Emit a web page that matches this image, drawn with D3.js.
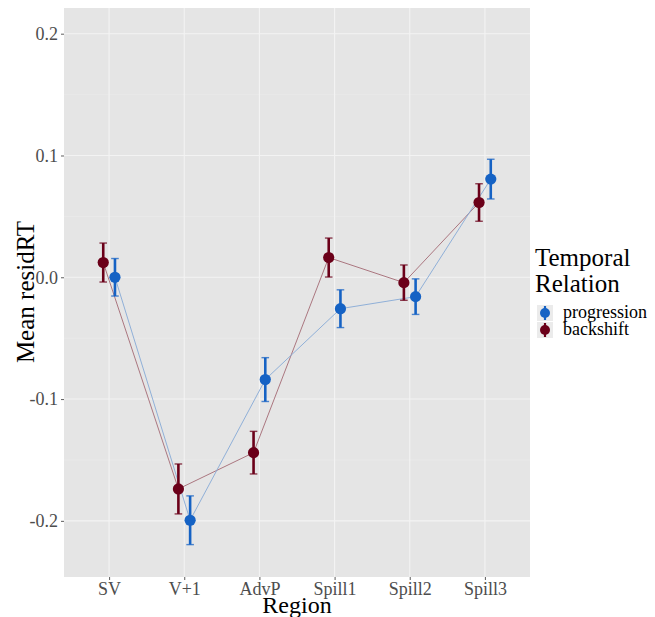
<!DOCTYPE html>
<html>
<head>
<meta charset="utf-8">
<script src="https://cdn.jsdelivr.net/npm/d3@7"></script>
<style>
  body { margin: 0; background: #fff; }
</style>
</head>
<body>
<svg id="chart" width="655" height="617"></svg>
<script>
// data
const regions = ["SV", "V+1", "AdvP", "Spill1", "Spill2", "Spill3"];
const groups = ["progression", "backshift"];
const progressionMean = [0.000, -0.1995, -0.084, -0.0258, -0.0159, 0.0806];
const progressionSE = [0.0154, 0.0200, 0.0180, 0.0155, 0.0146, 0.0163];
const backshiftMean = [0.0121, -0.1738, -0.1440, 0.0162, -0.0044, 0.0614];
const backshiftSE = [0.0160, 0.0205, 0.0175, 0.0160, 0.0145, 0.0154];
const yTicks = [-0.2, -0.1, 0.0, 0.1, 0.2];
const yMinor = [-0.15, -0.05, 0.05, 0.15];

const serif = "Liberation Serif, DejaVu Serif, serif";
const colors = { progression: "#1562c4", backshift: "#6b0019" };
const lineColors = { progression: "#86a9d6", backshift: "#a46a74" };
const dodge = { progression: 0.078, backshift: -0.078 };

const series = [
  { key: "backshift", mean: backshiftMean, se: backshiftSE },
  { key: "progression", mean: progressionMean, se: progressionSE }
];

const svg = d3.select("#chart").attr("font-family", serif);
const panel = { left: 64, right: 530, top: 8, bottom: 577 };

let x = d3.scalePoint()
  .domain(regions)
  .range([panel.left, panel.right])
  .padding(0.6);

let y = d3.scaleLinear()
  .domain([-0.2461, 0.2211])
  .range([panel.bottom, panel.top]);

let xPos = (i, key) => x(regions[i]) + dodge[key] * x.step();

svg.append("rect")
  .attr("x", panel.left).attr("y", panel.top)
  .attr("width", panel.right - panel.left)
  .attr("height", panel.bottom - panel.top)
  .attr("fill", "#e5e5e5");

let grid = svg.append("g");
grid.selectAll(".minor").data(yMinor).enter().append("line")
  .attr("x1", panel.left).attr("x2", panel.right)
  .attr("y1", d => y(d)).attr("y2", d => y(d))
  .attr("stroke", "#ededed").attr("stroke-width", 0.6);
grid.selectAll(".major").data(yTicks).enter().append("line")
  .attr("x1", panel.left).attr("x2", panel.right)
  .attr("y1", d => y(d)).attr("y2", d => y(d))
  .attr("stroke", "#f3f3f3").attr("stroke-width", 1.1);
grid.selectAll(".xmajor").data(regions).enter().append("line")
  .attr("y1", panel.top).attr("y2", panel.bottom)
  .attr("x1", d => x(d)).attr("x2", d => x(d))
  .attr("stroke", "#f3f3f3").attr("stroke-width", 1.1);

// connecting lines
let line = d3.line()
  .x(d => d[0])
  .y(d => y(d[1]));

series.forEach(s => {
  svg.append("path")
    .datum(s.mean.map((m, i) => [xPos(i, s.key), m]))
    .attr("d", line)
    .attr("fill", "none")
    .attr("stroke", lineColors[s.key])
    .attr("stroke-width", 0.9);
});

// error bars and points
series.forEach(s => {
  let g = svg.append("g");
  s.mean.forEach((m, i) => {
    let cx = xPos(i, s.key);
    g.append("line")
      .attr("x1", cx).attr("x2", cx)
      .attr("y1", y(m - s.se[i])).attr("y2", y(m + s.se[i]))
      .attr("stroke", colors[s.key]).attr("stroke-width", 2.6);
    [m - s.se[i], m + s.se[i]].forEach(v => {
      g.append("line")
        .attr("x1", cx - 3.8).attr("x2", cx + 3.8)
        .attr("y1", y(v)).attr("y2", y(v))
        .attr("stroke", colors[s.key]).attr("stroke-width", 1.4)
        .attr("stroke-opacity", 0.75);
    });
    g.append("circle")
      .attr("cx", cx).attr("cy", y(m)).attr("r", 5.6)
      .attr("fill", colors[s.key]);
  });
});

// axes
let yAxis = svg.append("g")
  .attr("transform", "translate(" + panel.left + ",0)")
  .call(d3.axisLeft(y).tickValues(yTicks).tickSize(3).tickPadding(3))
  .attr("font-family", serif);
yAxis.select(".domain").remove();
yAxis.selectAll(".tick line").attr("stroke", "#333").attr("stroke-width", 0.8);
yAxis.selectAll(".tick text").attr("fill", "#4d4d4d").attr("font-size", 18)
  .text(d => d3.format(".1f")(d).replace("−", "-"));

let xAxis = svg.append("g")
  .attr("transform", "translate(0," + panel.bottom + ")")
  .call(d3.axisBottom(x).tickSize(3).tickPadding(2))
  .attr("font-family", serif);
xAxis.select(".domain").remove();
xAxis.selectAll(".tick line").attr("stroke", "#333").attr("stroke-width", 0.8);
xAxis.selectAll(".tick text").attr("fill", "#4d4d4d").attr("font-size", 18);

svg.append("text")
  .attr("transform", "translate(34,292) rotate(-90)")
  .attr("text-anchor", "middle")
  .attr("font-size", 25)
  .text("Mean residRT");

svg.append("text")
  .attr("x", 297).attr("y", 613)
  .attr("text-anchor", "middle")
  .attr("font-size", 24)
  .text("Region");

// legend
let legend = svg.append("g").attr("transform", "translate(535,0)");
legend.append("text").attr("x", 0).attr("y", 266).attr("font-size", 25).text("Temporal");
legend.append("text").attr("x", 0).attr("y", 292).attr("font-size", 25).text("Relation");

groups.forEach((k, i) => {
  let cy = 313 + i * 17;
  legend.append("rect")
    .attr("x", 2).attr("y", cy - 8).attr("width", 16).attr("height", 16)
    .attr("fill", "#ebebeb");
  legend.append("line")
    .attr("x1", 10).attr("x2", 10).attr("y1", cy - 7).attr("y2", cy + 7)
    .attr("stroke", colors[k]).attr("stroke-width", 2.2);
  legend.append("circle")
    .attr("cx", 10).attr("cy", cy).attr("r", 5)
    .attr("fill", colors[k]);
  legend.append("text")
    .attr("x", 28).attr("y", cy + 5)
    .attr("font-size", 18)
    .text(k);
});
</script>
</body>
</html>
